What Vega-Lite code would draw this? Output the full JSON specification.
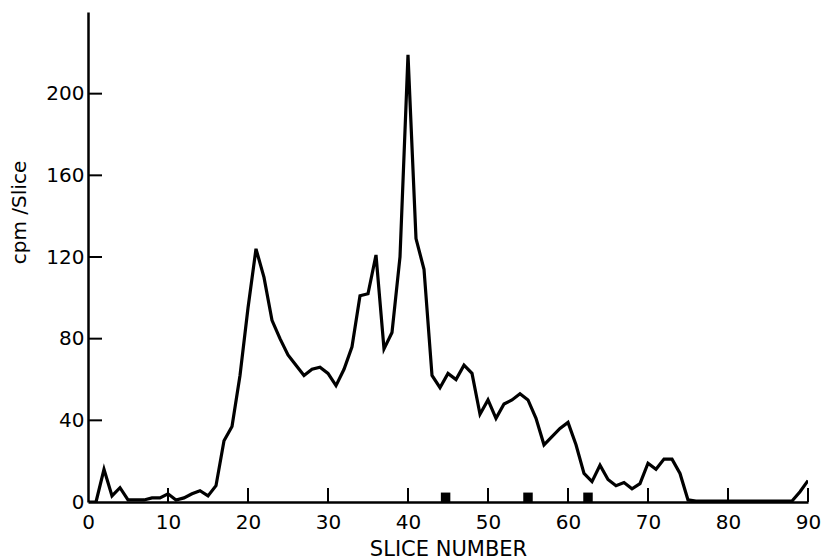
{
  "$schema": "https://vega.github.io/schema/vega-lite/v6.json",
  "autosize": {"type": "none"},
  "padding": {"left": 88, "top": 12, "right": 17, "bottom": 58},
  "width": 720,
  "height": 490,
  "background": "white",
  "config": {
    "view": {"stroke": null},
    "font": "DejaVu Sans",
    "axis": {
      "domainColor": "black",
      "domainWidth": 2.5,
      "ticks": false,
      "labelColor": "black",
      "titleColor": "black",
      "labelFont": "DejaVu Sans",
      "titleFont": "DejaVu Sans",
      "grid": false
    }
  },
  "datasets": {
    "counts": [
      {"slice": 0, "cpm": 0}, {"slice": 1, "cpm": 0}, {"slice": 2, "cpm": 16}, {"slice": 3, "cpm": 3},
      {"slice": 4, "cpm": 7}, {"slice": 5, "cpm": 1}, {"slice": 6, "cpm": 1}, {"slice": 7, "cpm": 1},
      {"slice": 8, "cpm": 2}, {"slice": 9, "cpm": 2}, {"slice": 10, "cpm": 4}, {"slice": 11, "cpm": 1},
      {"slice": 12, "cpm": 2}, {"slice": 13, "cpm": 4}, {"slice": 14, "cpm": 5.5}, {"slice": 15, "cpm": 3},
      {"slice": 16, "cpm": 8}, {"slice": 17, "cpm": 30}, {"slice": 18, "cpm": 37}, {"slice": 19, "cpm": 62},
      {"slice": 20, "cpm": 95}, {"slice": 21, "cpm": 124}, {"slice": 22, "cpm": 110}, {"slice": 23, "cpm": 89},
      {"slice": 24, "cpm": 80}, {"slice": 25, "cpm": 72}, {"slice": 26, "cpm": 67}, {"slice": 27, "cpm": 62},
      {"slice": 28, "cpm": 65}, {"slice": 29, "cpm": 66}, {"slice": 30, "cpm": 63}, {"slice": 31, "cpm": 57},
      {"slice": 32, "cpm": 65}, {"slice": 33, "cpm": 76}, {"slice": 34, "cpm": 101}, {"slice": 35, "cpm": 102},
      {"slice": 36, "cpm": 121}, {"slice": 37, "cpm": 75}, {"slice": 38, "cpm": 83}, {"slice": 39, "cpm": 120},
      {"slice": 40, "cpm": 219}, {"slice": 41, "cpm": 129}, {"slice": 42, "cpm": 114}, {"slice": 43, "cpm": 62},
      {"slice": 44, "cpm": 56}, {"slice": 45, "cpm": 63}, {"slice": 46, "cpm": 60}, {"slice": 47, "cpm": 67},
      {"slice": 48, "cpm": 63}, {"slice": 49, "cpm": 43}, {"slice": 50, "cpm": 50}, {"slice": 51, "cpm": 41},
      {"slice": 52, "cpm": 48}, {"slice": 53, "cpm": 50}, {"slice": 54, "cpm": 53}, {"slice": 55, "cpm": 50},
      {"slice": 56, "cpm": 41}, {"slice": 57, "cpm": 28}, {"slice": 58, "cpm": 32}, {"slice": 59, "cpm": 36},
      {"slice": 60, "cpm": 39}, {"slice": 61, "cpm": 28}, {"slice": 62, "cpm": 14}, {"slice": 63, "cpm": 10},
      {"slice": 64, "cpm": 18}, {"slice": 65, "cpm": 11}, {"slice": 66, "cpm": 8}, {"slice": 67, "cpm": 9.5},
      {"slice": 68, "cpm": 6.5}, {"slice": 69, "cpm": 9}, {"slice": 70, "cpm": 19}, {"slice": 71, "cpm": 16},
      {"slice": 72, "cpm": 21}, {"slice": 73, "cpm": 21}, {"slice": 74, "cpm": 14}, {"slice": 75, "cpm": 1},
      {"slice": 76, "cpm": 0.5}, {"slice": 77, "cpm": 0.5}, {"slice": 78, "cpm": 0.5}, {"slice": 79, "cpm": 0.5},
      {"slice": 80, "cpm": 0.5}, {"slice": 81, "cpm": 0.5}, {"slice": 82, "cpm": 0.5}, {"slice": 83, "cpm": 0.5},
      {"slice": 84, "cpm": 0.5}, {"slice": 85, "cpm": 0.5}, {"slice": 86, "cpm": 0.5}, {"slice": 87, "cpm": 0.5},
      {"slice": 88, "cpm": 0.5}, {"slice": 89, "cpm": 5}, {"slice": 90, "cpm": 10.5}
    ],
    "markers": [
      {"slice": 44.7, "cpm": 2.3}, {"slice": 55, "cpm": 2.3}, {"slice": 62.5, "cpm": 2.3}
    ],
    "xticks": [
      {"slice": 10}, {"slice": 20}, {"slice": 30}, {"slice": 40}, {"slice": 50},
      {"slice": 60}, {"slice": 70}, {"slice": 80}, {"slice": 90}
    ],
    "yticks": [
      {"cpm": 40}, {"cpm": 80}, {"cpm": 120}, {"cpm": 160}, {"cpm": 200}
    ]
  },
  "layer": [
    {
      "data": {"name": "counts"},
      "mark": {"type": "line", "color": "black", "strokeWidth": 3.2, "clip": true},
      "encoding": {
        "x": {
          "field": "slice", "type": "quantitative",
          "scale": {"domain": [0, 90], "nice": false, "zero": true},
          "axis": {
            "values": [0, 10, 20, 30, 40, 50, 60, 70, 80, 90],
            "labelPadding": 10,
            "labelFontSize": 20,
            "labelFlush": false,
            "title": "SLICE NUMBER",
            "titleFontSize": 21,
            "titleFontWeight": "normal",
            "titleY": 53,
            "titleBaseline": "alphabetic"
          }
        },
        "y": {
          "field": "cpm", "type": "quantitative",
          "scale": {"domain": [0, 240], "nice": false},
          "axis": {
            "values": [0, 40, 80, 120, 160, 200],
            "labelPadding": 4,
            "labelFontSize": 20,
            "labelFlush": false,
            "title": "cpm /Slice",
            "titleFontSize": 20,
            "titleFontWeight": "normal",
            "titleAngle": -90,
            "titleX": -69,
            "titleY": 200,
            "titleAlign": "center",
            "titleBaseline": "middle"
          }
        }
      }
    },
    {
      "data": {"name": "xticks"},
      "mark": {"type": "tick", "orient": "vertical", "color": "black", "size": 14, "thickness": 2, "opacity": 1},
      "encoding": {
        "x": {"field": "slice", "type": "quantitative"},
        "y": {"datum": 3.43, "type": "quantitative"}
      }
    },
    {
      "data": {"name": "yticks"},
      "mark": {"type": "tick", "orient": "horizontal", "color": "black", "size": 14, "thickness": 2, "opacity": 1},
      "encoding": {
        "y": {"field": "cpm", "type": "quantitative"},
        "x": {"datum": 0.875, "type": "quantitative"}
      }
    },
    {
      "data": {"name": "markers"},
      "mark": {"type": "point", "shape": "square", "filled": true, "color": "black", "size": 90, "opacity": 1},
      "encoding": {
        "x": {"field": "slice", "type": "quantitative"},
        "y": {"field": "cpm", "type": "quantitative"}
      }
    }
  ]
}
